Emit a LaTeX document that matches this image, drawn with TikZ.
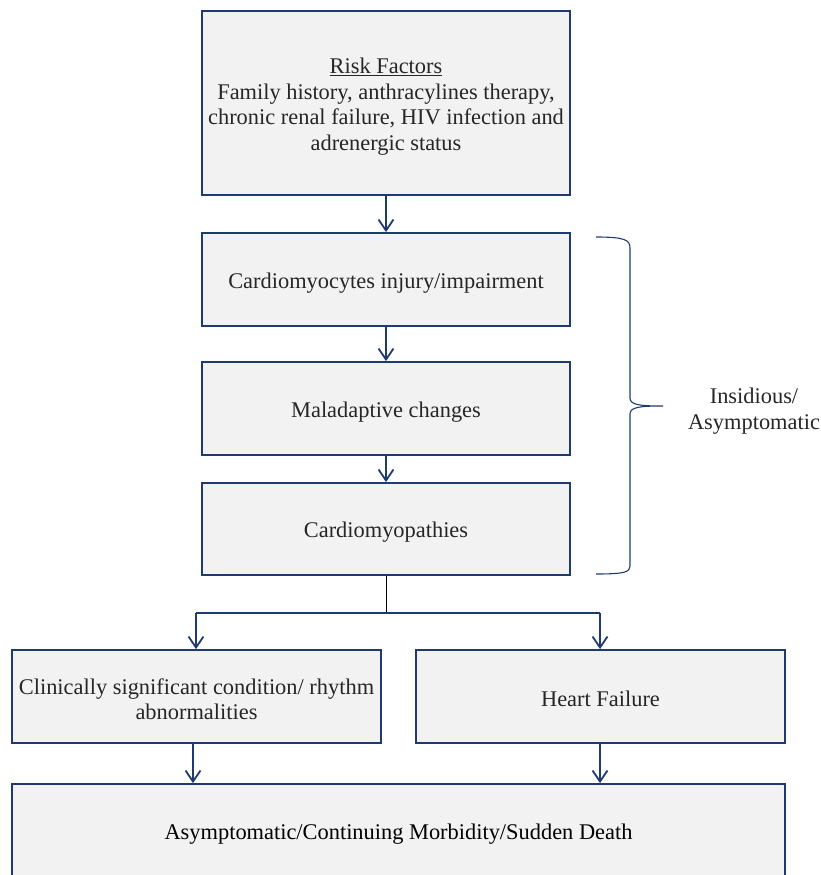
\documentclass[tikz,border=0pt]{standalone}
\usepackage{fontspec}
\setmainfont{Liberation Serif}
\usetikzlibrary{arrows.meta}
\definecolor{navy}{HTML}{1F3A70}
\definecolor{boxfill}{HTML}{F2F2F2}
\definecolor{txt}{HTML}{262626}
\definecolor{thin}{HTML}{7F8FAF}
\begin{document}
\begin{tikzpicture}[x=1pt,y=1pt,
  box/.style={draw=navy,line width=1.8pt,fill=boxfill,inner sep=0pt},
  arr/.style={draw=navy,line width=1.8pt,-{Straight Barb[length=11pt,width=15pt,line width=1.8pt]}},
  lbl/.style={text=txt,align=center,font=\fontsize{22.4}{25.5}\selectfont,inner sep=0pt}]
\useasboundingbox (0,0) rectangle (820,-875);
\node[box,minimum width=368,minimum height=184] (risk) at (386,-103) {};
\node[box,minimum width=368,minimum height=93] (cardio) at (386,-279.5) {};
\node[box,minimum width=368,minimum height=93] (mal) at (386,-408.5) {};
\node[box,minimum width=368,minimum height=92] (cmp) at (386,-529) {};
\node[box,minimum width=369,minimum height=93] (left) at (196.5,-696.5) {};
\node[box,minimum width=369,minimum height=93] (hf) at (600.5,-696.5) {};
\node[box,minimum width=773,minimum height=94] (bot) at (398.5,-831) {};
\node[lbl] (riskt) at ([yshift=-3.5]risk.center)
  {\underline{Risk Factors}\\Family history, anthracylines therapy,\\chronic renal failure, HIV infection and\\adrenergic status};
\node[lbl] (cardiot) at ([yshift=-3.5]cardio.center) {Cardiomyocytes injury/impairment};
\node[lbl] (malt) at ([yshift=-3.5]mal.center) {Maladaptive changes};
\node[lbl] (cmpt) at ([yshift=-3.5]cmp.center) {Cardiomyopathies};
\node[lbl] (leftt) at ([yshift=-2.5]left.center) {Clinically significant condition/ rhythm\\abnormalities};
\node[lbl] (hft) at ([yshift=-2.5]hf.center) {Heart Failure};
\node[lbl,text=black] (bott) at ([yshift=-3]bot.center) {Asymptomatic/Continuing Morbidity/Sudden Death};
\draw[arr] (risk.south) -- (cardio.north);
\draw[arr] (cardio.south) -- (mal.north);
\draw[arr] (mal.south) -- (cmp.north);
\coordinate (split) at (386,-613);
\coordinate (sl) at (196,-613);
\coordinate (sr) at (600,-613);
\draw[thin,line width=1pt] (cmp.south) -- (split);
\draw[navy,line width=1.8pt] (sl) -- (sr);
\draw[arr] (sl) -- (sl |- left.north);
\draw[arr] (sr) -- (sr |- hf.north);
\draw[arr] (193,-743) coordinate (l1) -- (l1 |- bot.north);
\draw[arr] (600,-743) coordinate (r1) -- (r1 |- bot.north);
\draw[navy,line width=1.1pt] (596,-237) .. controls (625,-237) and (630,-240) .. (630,-248) -- (630,-398)
  .. controls (630,-405) and (640,-406) .. (663,-406)
  .. controls (640,-406) and (630,-407) .. (630,-414) -- (630,-566)
  .. controls (630,-572) and (625,-574) .. (596,-574);
\node[lbl] (ins) at (754,-411) {Insidious/\\Asymptomatic};
\end{tikzpicture}
\end{document}
